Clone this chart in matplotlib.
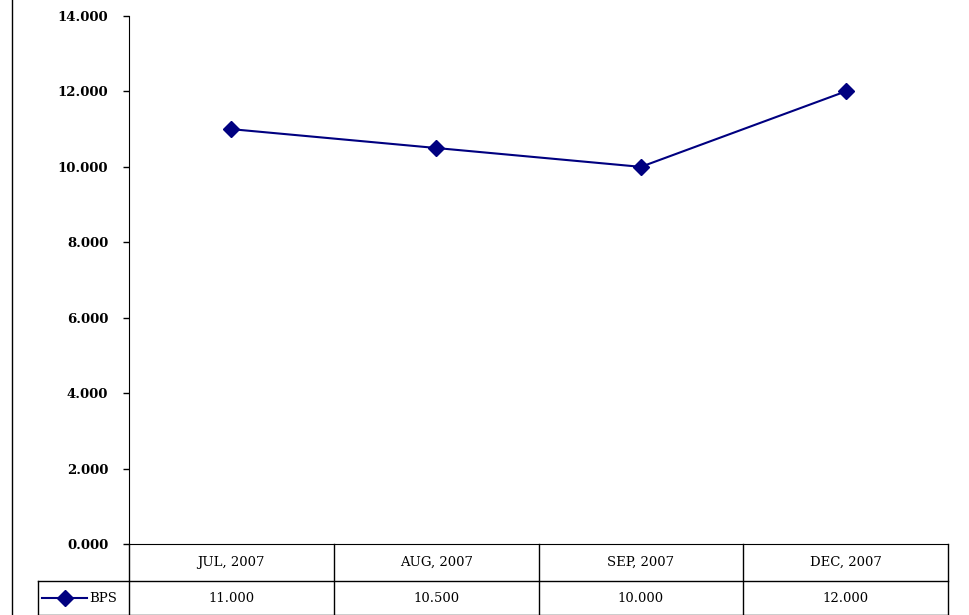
import matplotlib
matplotlib.use("Agg")
import matplotlib.pyplot as plt
import matplotlib.transforms as mtransforms
from matplotlib.lines import Line2D

plt.rcParams['font.family'] = ['DejaVu Serif']

months = ['JUL, 2007', 'AUG, 2007', 'SEP, 2007', 'DEC, 2007']
bps = [11.0, 10.5, 10.0, 12.0]
bps_labels = ['11.000', '10.500', '10.000', '12.000']
series_name = 'BPS'
yticks = [0, 2, 4, 6, 8, 10, 12, 14]

W, H = 969, 615
fig = plt.figure(figsize=(W / 100, H / 100), dpi=100)
ax = fig.add_axes([129 / W, 1 - 544 / H, (948 - 129) / W, (544 - 16) / H])

x = list(range(len(months)))
ax.plot(x, bps, color='#000080', lw=1.5, marker='D', ms=8.5, mfc='#000080', mec='#000080')

ax.set_xlim(-0.5, len(months) - 0.5)
ax.set_ylim(0, 14)
ax.set_yticks(yticks)
ax.set_yticklabels([f'{v}.000' for v in yticks], fontweight='bold', fontsize=9.5)
ax.set_xticks([])
for s in ['top', 'right']:
    ax.spines[s].set_visible(False)
ax.spines['left'].set_color('black')
ax.spines['bottom'].set_color('black')
ax.tick_params(axis='y', direction='out', length=4, width=1, pad=11)

# data table below the plot
blend = mtransforms.blended_transform_factory(ax.transData, ax.transAxes)
ph = 544 - 16
row1 = -37 / ph
row2 = -71 / ph
legend_left = -0.5 + (38 - 129) / 205.0
n = len(months)

def hline(x0, x1, y):
    ax.add_line(Line2D([x0, x1], [y, y], transform=blend, color='black', lw=1, clip_on=False))

def vline(xv, y0, y1):
    ax.add_line(Line2D([xv, xv], [y0, y1], transform=blend, color='black', lw=1, clip_on=False))

hline(legend_left, n - 0.5, row1)
hline(legend_left, n - 0.5, row2)
for i in range(n + 1):
    vline(i - 0.5, 0, row2)
vline(legend_left, row1, row2)

for i, m in enumerate(months):
    ax.text(i, row1 / 2, m, transform=blend, ha='center', va='center', fontsize=9.5)
    ax.text(i, (row1 + row2) / 2, bps_labels[i], transform=blend, ha='center', va='center', fontsize=9.5)

# legend key in the table
ym = (row1 + row2) / 2
kx0 = legend_left + 0.02
kx1 = legend_left + 0.24
ax.add_line(Line2D([kx0, kx1], [ym, ym], transform=blend, color='#000080', lw=1.5, clip_on=False))
ax.add_line(Line2D([(kx0 + kx1) / 2], [ym], transform=blend, color='#000080', marker='D', ms=8.5,
                   clip_on=False))
ax.text(kx1 + 0.01, ym, series_name, transform=blend, ha='left', va='center', fontsize=9.5)

# chart border line at the left
fig.add_artist(Line2D([12 / W, 12 / W], [0, 1], transform=fig.transFigure, color='black', lw=1))

fig.savefig('out.png', dpi=100)
